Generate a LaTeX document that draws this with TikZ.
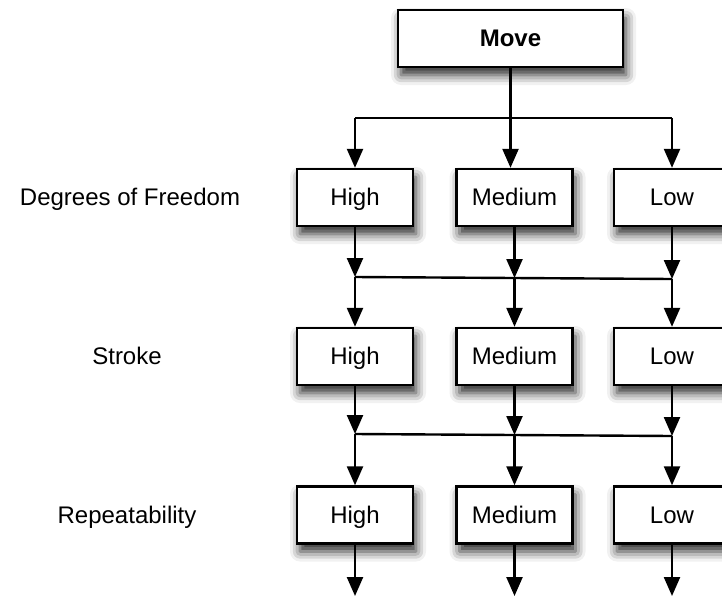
\documentclass[tikz,border=0pt]{standalone}
\usepackage{fontspec}
\setmainfont{Liberation Sans}
\usetikzlibrary{arrows.meta,shadows.blur}
\begin{document}
\begin{tikzpicture}[x=1pt,y=-1pt,
  font=\fontsize{24}{28}\selectfont,
  box/.style={draw, line width=2.4pt, fill=white, inner sep=0pt,
    minimum width=116pt, minimum height=57pt,
    text height=18pt, text depth=2pt,
    blur shadow={shadow xshift=3pt, shadow yshift=-8pt,
      shadow blur radius=10pt, shadow opacity=85}},
  link/.style={line width=2.4pt},
  flow/.style={line width=2.4pt, -{Triangle[length=19pt,width=16pt]}},
  rowlabel/.style={anchor=center, text height=18pt, text depth=2pt}]
\clip (0,0) rectangle (722,597);
\useasboundingbox (0,0) rectangle (722,597);

% top node
\node[box, minimum width=225pt, font=\fontsize{24}{28}\selectfont\bfseries] (move) at (510.5,38.5) {Move};

% row labels
\node[rowlabel] (lab1) at (130,197) {Degrees of Freedom};
\node[rowlabel] (lab2) at (127,356) {Stroke};
\node[rowlabel] (lab3) at (127,515) {Repeatability};

% three rows of choices
\foreach \r/\y in {1/197.5, 2/356.5, 3/515} {
  \node[box] (h\r) at (355,\y) {High};
  \node[box] (m\r) at (514.5,\y) {Medium};
  \node[box] (l\r) at (672,\y) {Low};
}

% split below the top node
\coordinate (sH) at (355,118);
\coordinate (sL) at (672,118);
\coordinate (sM) at (move.south |- sH);
\draw[link] (move.south) -- (sM);
\draw[link] (sH) -- (sL);
\draw[flow] (sH) -- (h1.north);
\draw[flow] (sM) -- (sM |- m1.north);
\draw[flow] (sL) -- (l1.north);

% merge after the first row
\coordinate (aH) at (355,277);
\coordinate (aM) at (514.5,278);
\coordinate (aL) at (672,279);
\draw[link] (aH) -- (aL);
\draw[flow] (h1.south) -- (aH);
\draw[flow] (m1.south) -- (aM);
\draw[flow] (l1.south) -- (aL);
\draw[flow] (aH) -- (h2.north);
\draw[flow] (aM) -- (m2.north);
\draw[flow] (aL) -- (l2.north);

% merge after the second row
\coordinate (bH) at (355,434);
\coordinate (bM) at (514.5,435);
\coordinate (bL) at (672,436);
\draw[link] (bH) -- (bL);
\draw[flow] (h2.south) -- (bH);
\draw[flow] (m2.south) -- (bM);
\draw[flow] (l2.south) -- (bL);
\draw[flow] (bH) -- (h3.north);
\draw[flow] (bM) -- (m3.north);
\draw[flow] (bL) -- (l3.north);

% open ends below the last row
\coordinate (eH) at (355,596);
\coordinate (eM) at (514.5,596);
\coordinate (eL) at (672,596);
\draw[flow] (h3.south) -- (eH);
\draw[flow] (m3.south) -- (eM);
\draw[flow] (l3.south) -- (eL);
\end{tikzpicture}
\end{document}
